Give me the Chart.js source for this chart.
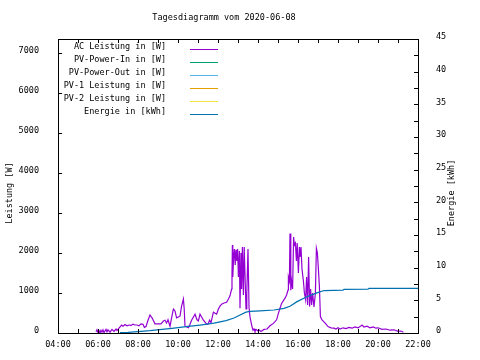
<!DOCTYPE html>
<html>
<head>
<meta charset="utf-8">
<script src="https://cdn.jsdelivr.net/npm/chart.js@4"></script>
<style>
  body { margin: 0; background: #fff; }
</style>
</head>
<body>
<canvas id="chart" width="480" height="360"></canvas>
<script>
// Tageswerte 2020-06-08, Zeit in Stunden
const acTime = [5.90, 5.95, 6.00, 6.05, 6.10, 6.15, 6.20, 6.25, 6.30, 6.40, 6.45, 6.50, 6.60, 6.70, 6.80, 6.90, 6.95,
  7.05, 7.18, 7.25, 7.35, 7.45, 7.55, 7.65, 7.75, 7.85, 7.95, 8.05, 8.15, 8.25, 8.32, 8.40, 8.50, 8.60, 8.70, 8.85, 9.00,
  9.15, 9.27, 9.35, 9.43, 9.50, 9.60, 9.68, 9.77, 9.85, 9.93, 10.10, 10.18, 10.27, 10.31, 10.35, 10.52, 10.60, 10.68,
  10.85, 10.95, 11.02, 11.10, 11.27, 11.43, 11.50, 11.58, 11.65, 11.77, 11.93, 12.02, 12.10, 12.18, 12.30, 12.43, 12.52,
  12.60, 12.68, 12.70, 12.72, 12.74, 12.78, 12.82, 12.86, 12.90, 12.94, 12.98, 13.02, 13.07, 13.10, 13.15, 13.18, 13.22,
  13.27, 13.31, 13.40, 13.44, 13.50, 13.55, 13.60, 13.70, 13.75, 13.80, 13.85, 13.90, 14.00, 14.05, 14.15, 14.30, 14.45,
  14.60, 14.77, 14.93, 15.02, 15.10, 15.18, 15.35, 15.43, 15.50, 15.52, 15.57, 15.60, 15.64, 15.68, 15.73, 15.78, 15.82,
  15.87, 15.92, 15.96, 16.02, 16.07, 16.10, 16.15, 16.20, 16.27, 16.32, 16.38, 16.43, 16.48, 16.53, 16.58, 16.63, 16.68,
  16.73, 16.80, 16.87, 16.92, 16.97, 17.02, 17.07, 17.12, 17.20, 17.30, 17.40, 17.50, 17.65, 17.80, 17.90, 18.00, 18.10,
  18.25, 18.40, 18.55, 18.70, 18.85, 19.00, 19.10, 19.20, 19.30, 19.45, 19.60, 19.75, 19.90, 20.00, 20.20, 20.40, 20.60,
  20.80, 21.00, 21.15, 21.27];
const acPower = [30, 80, 10, 60, 0, 70, 20, 80, 10, 90, 30, 80, 20, 90, 40, 100, 60,
  120, 200, 170, 210, 180, 200, 190, 220, 200, 200, 180, 230, 220, 140, 160, 320, 450, 380, 230, 230,
  230, 300, 320, 250, 330, 170, 380, 600, 550, 380, 420, 670, 850, 600, 170, 130, 220, 320,
  470, 330, 300, 470, 320, 220, 220, 320, 260, 520, 470, 600, 670, 720, 750, 770, 850,
  930, 1100, 1480, 2200, 1400, 1880, 2100, 1700, 2080, 1800, 2100, 1400, 2050, 620, 2000, 1100, 2150, 950,
  2150, 600, 1000, 2100, 650, 400, 160, 70, 100, 40, 90, 50, 80, 40, 90, 100, 180,
  240, 330, 490, 620, 740, 870, 950, 1075, 1400, 1300, 2490, 1070, 1300, 1100, 2400, 2200, 2250,
  1800, 2250, 1500, 2150, 1900, 2150, 1600, 1300, 1000, 830, 1400, 700, 1900, 660, 1100, 700, 1000,
  650, 1000, 2120, 2000, 1600, 1160, 410, 330, 280, 220, 160, 130, 120, 100, 130, 100, 130,
  110, 140, 120, 150, 130, 160, 200, 150, 170, 130, 150, 120, 130, 90, 100, 70, 80,
  40, 50, 20, 10];

const energyTime = [7.10, 7.50, 8.00, 8.60, 9.20, 9.70, 10.40, 11.10, 11.80, 12.40, 12.80, 13.10, 13.40, 13.60,
  14.10, 14.80, 15.30, 15.60, 15.95, 16.45, 16.95, 17.30, 18.25, 18.30, 19.50, 19.55, 22.00];
const energyKWh = [0.05, 0.10, 0.20, 0.35, 0.55, 0.72, 0.97, 1.22, 1.50, 1.90, 2.30, 2.75, 3.20, 3.30,
  3.40, 3.52, 3.77, 4.10, 4.80, 5.55, 6.15, 6.50, 6.55, 6.69, 6.70, 6.84, 6.84];

const seriesNames = ['AC Leistung in [W]', 'PV-Power-In in [W]', 'PV-Power-Out in [W]',
  'PV-1 Leistung in [W]', 'PV-2 Leistung in [W]', 'Energie in [kWh]'];
const seriesColors = ['#9400d3', '#009e73', '#56b4e9', '#e69f00', '#f0e442', '#0072b2'];

const hourLabels = [4, 6, 8, 10, 12, 14, 16, 18, 20, 22];
const hourMarks = [4, 5, 6, 7, 8, 9, 10, 11, 12, 13, 14, 15, 16, 17, 18, 19, 20, 21, 22];
const powerTicks = [0, 1000, 2000, 3000, 4000, 5000, 6000, 7000];
const energyTicks = [0, 5, 10, 15, 20, 25, 30, 35, 40, 45];
const energyMarks = [0, 2.5, 5, 7.5, 10, 12.5, 15, 17.5, 20, 22.5, 25, 27.5, 30, 32.5, 35, 37.5, 40, 42.5, 45];

const titleText = 'Tagesdiagramm vom 2020-06-08';

const FONT = '"DejaVu Sans Mono", "Liberation Mono", monospace';
const FSIZE = 8.5;

const pairs = (xs, ys) => xs.map((x, i) => ({x: x, y: ys[i]}));

// rahmen, innenliegende ticks, titel, achsentitel und legende im gnuplot-stil
const gnuplotLook = {
  id: 'gnuplotLook',
  afterDraw(chart) {
    const {ctx, chartArea: a, scales} = chart;
    ctx.save();
    ctx.strokeStyle = '#000';
    ctx.lineWidth = 1;
    ctx.strokeRect(a.left + 0.5, a.top + 0.5, a.right - a.left, a.bottom - a.top);

    ctx.beginPath();
    hourMarks.forEach(h => {
      const x = Math.round(scales.x.getPixelForValue(h)) + 0.5;
      ctx.moveTo(x, a.bottom); ctx.lineTo(x, a.bottom - 4);
      ctx.moveTo(x, a.top); ctx.lineTo(x, a.top + 4);
    });
    powerTicks.forEach(v => {
      const y = Math.round(scales.y.getPixelForValue(v)) + 0.5;
      ctx.moveTo(a.left, y); ctx.lineTo(a.left + 4, y);
    });
    energyMarks.forEach(v => {
      const y = Math.round(scales.y2.getPixelForValue(v)) + 0.5;
      ctx.moveTo(a.right, y); ctx.lineTo(a.right - 4, y);
    });
    ctx.stroke();

    ctx.fillStyle = '#000';
    ctx.font = FSIZE + 'px ' + FONT;
    ctx.textBaseline = 'middle';
    ctx.textAlign = 'center';
    ctx.fillText(titleText, 224, 18);
    [['Leistung [W]', 10], ['Energie [kWh]', 452]].forEach(([txt, x]) => {
      ctx.save();
      ctx.translate(x, 193);
      ctx.rotate(-Math.PI / 2);
      ctx.fillText(txt, 0, 0);
      ctx.restore();
    });

    // legende
    chart.data.datasets.forEach((ds, i) => {
      const y = 49 + i * 13;
      ctx.textAlign = 'right';
      ctx.fillStyle = '#000';
      ctx.fillText(ds.label, 166, y - 2);
      ctx.beginPath();
      ctx.strokeStyle = ds.borderColor;
      ctx.moveTo(190, y + 0.5);
      ctx.lineTo(218, y + 0.5);
      ctx.stroke();
    });
    ctx.restore();
  }
};

const ctx = document.getElementById('chart').getContext('2d');
const chart = new Chart(ctx, {
  type: 'line',
  data: {
    datasets: [
      {label: seriesNames[0], data: pairs(acTime, acPower), borderColor: seriesColors[0], yAxisID: 'y', order: 1},
      {label: seriesNames[1], data: [], borderColor: seriesColors[1], yAxisID: 'y', order: 1},
      {label: seriesNames[2], data: [], borderColor: seriesColors[2], yAxisID: 'y', order: 1},
      {label: seriesNames[3], data: [], borderColor: seriesColors[3], yAxisID: 'y', order: 1},
      {label: seriesNames[4], data: [], borderColor: seriesColors[4], yAxisID: 'y', order: 1},
      {label: seriesNames[5], data: pairs(energyTime, energyKWh), borderColor: seriesColors[5], yAxisID: 'y2', order: 0}
    ]
  },
  options: {
    responsive: false,
    animation: false,
    devicePixelRatio: 1,
    layout: {padding: {top: 39}},
    elements: {
      point: {radius: 0},
      line: {borderWidth: 1.2, tension: 0, fill: false}
    },
    plugins: {
      legend: {display: false},
      tooltip: {enabled: false},
      title: {display: false}
    },
    scales: {
      x: {
        type: 'linear',
        min: 4, max: 22,
        afterBuildTicks: s => { s.ticks = hourLabels.map(v => ({value: v})); },
        afterFit: s => { s.height = 27; },
        grid: {display: false},
        border: {display: false},
        ticks: {
          color: '#000', font: {family: FONT, size: FSIZE}, padding: -1,
          autoSkip: false, maxRotation: 0,
          callback: v => String(v).padStart(2, '0') + ':00'
        }
      },
      y: {
        position: 'left',
        min: 0, max: 7350,
        afterBuildTicks: s => { s.ticks = powerTicks.map(v => ({value: v})); },
        afterFit: s => { s.width = 58; },
        grid: {display: false},
        border: {display: false},
        ticks: {color: '#000', font: {family: FONT, size: FSIZE}, padding: 11, labelOffset: -2,
          callback: v => String(v)}
      },
      y2: {
        position: 'right',
        min: 0, max: 45,
        afterBuildTicks: s => { s.ticks = energyTicks.map(v => ({value: v})); },
        afterFit: s => { s.width = 62; },
        grid: {display: false},
        border: {display: false},
        ticks: {color: '#000', font: {family: FONT, size: FSIZE}, padding: 10, labelOffset: -2,
          callback: v => String(v)}
      }
    }
  },
  plugins: [gnuplotLook]
});
</script>
</body>
</html>
